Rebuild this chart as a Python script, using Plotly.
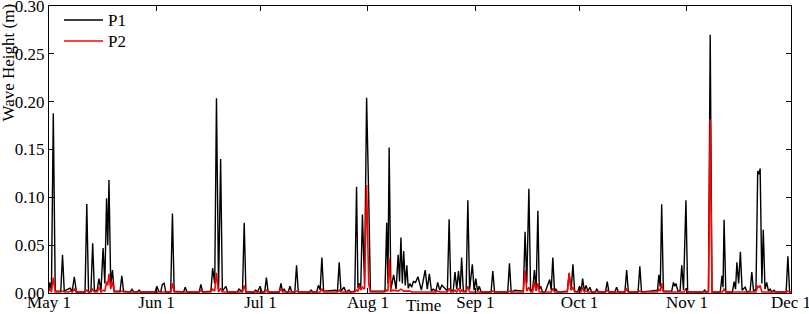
import pandas as pd
import plotly.graph_objects as go

# ---- data (day offsets from May 1, wave height in m) ----
p1_day = [0.0, 0.2, 0.7, 1.24, 1.8, 3.4, 3.9, 4.4, 5.5, 6.1,
          6.7, 7.3, 7.9, 10.4, 10.9, 11.4, 12.1, 12.6, 13.1, 13.9,
          14.4, 15.0, 15.6, 16.1, 16.6, 16.95, 17.3, 17.8, 18.3, 18.8,
          20.5, 21.0, 21.5, 23.4, 23.9, 24.5, 25.5, 26.0, 26.5, 30.6,
          31.1, 31.6, 32.2, 32.7, 33.2, 33.7, 35.1, 35.6, 36.1, 38.8,
          39.3, 39.8, 43.3, 43.8, 44.3, 46.7, 47.2, 47.8, 48.3, 48.9,
          49.5, 50.0, 51.0, 51.5, 54.3, 54.8, 55.8, 56.3, 56.8, 59.1,
          59.6, 60.1, 60.9, 61.4, 62.2, 62.7, 63.2, 66.4, 66.9, 67.3,
          67.8, 68.3, 69.0, 69.5, 70.0, 70.9, 71.4, 71.9, 75.1, 75.6,
          76.1, 77.2, 77.7, 78.2, 78.7, 79.2, 82.7, 83.2, 83.7, 84.2,
          85.1, 85.6, 86.5, 87.0, 88.2, 88.7, 89.1, 89.5, 89.9, 90.4,
          91.0, 91.6, 92.2, 92.7, 96.9, 97.4, 97.75, 98.1, 98.6, 99.4,
          100.1, 100.7, 101.1, 101.5, 101.9, 102.3, 102.75, 103.2, 103.6, 104.1,
          104.6, 105.1, 105.7, 106.4, 107.4, 108.5, 109.1, 109.7, 110.3, 110.8,
          111.6, 112.1, 112.7, 113.3, 114.9, 115.4, 115.9, 116.6, 117.1, 117.6,
          118.1, 118.6, 119.0, 119.5, 120.3, 120.8, 121.3, 122.1, 122.6, 123.1,
          123.6, 124.1, 124.6, 127.5, 128.0, 128.5, 132.3, 132.8, 133.3, 134.4,
          136.8, 137.3, 137.8, 138.4, 138.9, 139.5, 140.0, 140.5, 141.0, 141.4,
          141.8, 142.3, 143.1, 143.6, 144.4, 144.85, 145.3, 145.8, 146.2, 146.7,
          149.5, 150.0, 150.6, 151.1, 151.6, 152.5, 153.0, 153.45, 153.9, 154.4,
          154.9, 155.4, 156.0, 156.5, 157.5, 158.0, 158.5, 160.5, 161.0, 161.5,
          163.2, 163.7, 164.2, 166.1, 166.6, 167.1, 169.9, 170.4, 170.9, 173.3,
          175.5, 175.9, 176.3, 176.7, 177.2, 179.6, 180.1, 180.45, 180.8, 181.4,
          182.0, 182.5, 183.0, 183.7, 184.2, 188.6, 189.1, 189.6, 190.2, 190.7,
          191.2, 193.6, 194.1, 194.4, 194.7, 195.2, 197.1, 197.6, 198.0, 198.4,
          198.9, 199.4, 199.9, 200.8, 201.3, 202.2, 202.7, 203.2, 203.9, 204.4,
          204.7, 205.1, 205.6, 206.0, 206.5, 207.0, 207.5, 208.0, 208.5, 209.1,
          209.6, 212.6, 213.1, 213.6, 214.0]
p1_val = [0.004, 0.011, 0.003, 0.188, 0.002, 0.002, 0.040, 0.002, 0.004, 0.005,
          0.002, 0.017, 0.001, 0.001, 0.093, 0.001, 0.002, 0.052, 0.002, 0.003,
          0.015, 0.003, 0.047, 0.010, 0.099, 0.050, 0.118, 0.008, 0.024, 0.002,
          0.002, 0.018, 0.002, 0.001, 0.004, 0.001, 0.001, 0.003, 0.001, 0.001,
          0.007, 0.002, 0.001, 0.009, 0.010, 0.001, 0.001, 0.083, 0.002, 0.001,
          0.006, 0.001, 0.001, 0.009, 0.001, 0.002, 0.026, 0.010, 0.2035, 0.004,
          0.140, 0.002, 0.007, 0.001, 0.001, 0.004, 0.001, 0.0735, 0.001, 0.001,
          0.003, 0.001, 0.007, 0.001, 0.001, 0.016, 0.001, 0.001, 0.010, 0.002,
          0.004, 0.001, 0.001, 0.007, 0.001, 0.001, 0.029, 0.001, 0.001, 0.003,
          0.001, 0.001, 0.008, 0.003, 0.037, 0.002, 0.003, 0.002, 0.032, 0.002,
          0.006, 0.001, 0.003, 0.001, 0.002, 0.111, 0.005, 0.010, 0.004, 0.082,
          0.010, 0.204, 0.102, 0.002, 0.002, 0.0735, 0.010, 0.152, 0.004, 0.019,
          0.004, 0.040, 0.012, 0.058, 0.010, 0.044, 0.008, 0.029, 0.005, 0.010,
          0.006, 0.012, 0.011, 0.017, 0.003, 0.024, 0.004, 0.020, 0.002, 0.004,
          0.002, 0.011, 0.003, 0.008, 0.002, 0.077, 0.002, 0.003, 0.022, 0.004,
          0.023, 0.004, 0.037, 0.002, 0.002, 0.097, 0.004, 0.030, 0.003, 0.015,
          0.002, 0.007, 0.001, 0.001, 0.023, 0.001, 0.001, 0.031, 0.001, 0.003,
          0.002, 0.064, 0.010, 0.109, 0.002, 0.004, 0.024, 0.003, 0.086, 0.004,
          0.007, 0.001, 0.001, 0.007, 0.014, 0.003, 0.037, 0.002, 0.004, 0.001,
          0.002, 0.020, 0.003, 0.030, 0.002, 0.001, 0.007, 0.002, 0.015, 0.002,
          0.008, 0.002, 0.006, 0.001, 0.001, 0.004, 0.001, 0.001, 0.012, 0.001,
          0.001, 0.006, 0.001, 0.001, 0.024, 0.001, 0.001, 0.028, 0.001, 0.002,
          0.003, 0.019, 0.006, 0.0927, 0.002, 0.002, 0.011, 0.007, 0.010, 0.002,
          0.002, 0.029, 0.003, 0.097, 0.001, 0.001, 0.003, 0.001, 0.002, 0.270,
          0.001, 0.001, 0.018, 0.006, 0.0765, 0.001, 0.001, 0.012, 0.004, 0.032,
          0.010, 0.043, 0.003, 0.006, 0.001, 0.002, 0.022, 0.002, 0.004, 0.1275,
          0.124, 0.130, 0.010, 0.066, 0.004, 0.011, 0.002, 0.004, 0.001, 0.003,
          0.001, 0.001, 0.0385, 0.001, 0.001]

p2_day = [0.0, 0.3, 0.7, 1.24, 1.8, 3.4, 3.9, 4.4, 5.6, 6.1,
          6.7, 7.3, 7.9, 10.4, 10.9, 11.4, 12.1, 12.6, 13.1, 13.9,
          14.4, 15.0, 15.6, 16.1, 16.6, 16.95, 17.3, 17.8, 18.3, 18.8,
          20.5, 21.0, 21.5, 35.1, 35.6, 36.1, 43.3, 43.8, 44.3, 46.7,
          47.2, 47.8, 48.3, 48.9, 49.5, 50.0, 55.8, 56.3, 56.8, 62.2,
          62.7, 63.2, 66.4, 66.9, 67.4, 70.9, 71.4, 71.9, 78.2, 78.7,
          79.2, 83.2, 83.7, 84.2, 88.2, 88.7, 89.1, 89.5, 89.9, 90.4,
          91.0, 91.6, 92.2, 92.7, 96.9, 97.4, 97.75, 98.1, 98.6, 99.4,
          100.7, 101.5, 102.3, 104.1, 104.6, 111.6, 112.1, 112.7, 114.9, 115.4,
          115.9, 116.6, 117.1, 117.6, 118.1, 118.6, 119.0, 119.5, 120.3, 120.8,
          121.3, 127.5, 128.0, 128.5, 132.3, 132.8, 133.3, 136.8, 137.3, 137.8,
          138.4, 138.9, 139.5, 140.0, 140.5, 141.0, 141.4, 144.85, 145.3, 145.8,
          149.5, 150.0, 150.6, 151.1, 151.6, 153.4, 153.9, 154.4, 154.9, 155.4,
          160.5, 161.0, 161.5, 166.1, 166.6, 167.1, 169.9, 170.4, 170.9, 175.5,
          175.9, 176.3, 176.7, 177.2, 183.2, 183.7, 184.2, 190.2, 190.7, 191.2,
          194.2, 194.7, 195.2, 203.9, 204.4, 204.75, 205.1, 205.6, 212.6, 213.1,
          213.6, 214.0]
p2_val = [0.002, 0.004, 0.001, 0.016, 0.001, 0.001, 0.002, 0.001, 0.001, 0.002,
          0.001, 0.004, 0.001, 0.001, 0.003, 0.001, 0.001, 0.004, 0.001, 0.001,
          0.006, 0.001, 0.003, 0.002, 0.012, 0.008, 0.020, 0.004, 0.012, 0.001,
          0.001, 0.002, 0.001, 0.001, 0.010, 0.001, 0.001, 0.003, 0.001, 0.001,
          0.004, 0.002, 0.021, 0.001, 0.005, 0.001, 0.001, 0.008, 0.001, 0.001,
          0.003, 0.001, 0.001, 0.005, 0.001, 0.001, 0.002, 0.001, 0.001, 0.004,
          0.001, 0.001, 0.003, 0.001, 0.001, 0.003, 0.002, 0.008, 0.003, 0.006,
          0.004, 0.113, 0.010, 0.001, 0.001, 0.003, 0.002, 0.036, 0.002, 0.003,
          0.002, 0.004, 0.002, 0.002, 0.001, 0.001, 0.002, 0.001, 0.001, 0.005,
          0.001, 0.001, 0.003, 0.001, 0.005, 0.001, 0.003, 0.001, 0.001, 0.007,
          0.001, 0.001, 0.002, 0.001, 0.001, 0.002, 0.001, 0.001, 0.024, 0.002,
          0.006, 0.001, 0.001, 0.012, 0.002, 0.010, 0.001, 0.001, 0.005, 0.001,
          0.001, 0.021, 0.003, 0.006, 0.001, 0.001, 0.006, 0.001, 0.002, 0.001,
          0.001, 0.003, 0.001, 0.001, 0.004, 0.001, 0.001, 0.002, 0.001, 0.001,
          0.004, 0.002, 0.010, 0.001, 0.001, 0.005, 0.001, 0.001, 0.1815, 0.001,
          0.001, 0.004, 0.001, 0.001, 0.007, 0.006, 0.008, 0.001, 0.001, 0.002,
          0.001, 0.001]

series_names = ["P1", "P2"]
series_colors = ["black", "#ff0000"]
start_date = "2019-05-01"
tick_dates = ["2019-05-01", "2019-06-01", "2019-07-01", "2019-08-01",
              "2019-09-01", "2019-10-01", "2019-11-01", "2019-12-01"]
tick_text = ["May 1", "Jun 1", "Jul 1", "Aug 1", "Sep 1", "Oct 1", "Nov 1", "Dec 1"]
y_ticks = [0.0, 0.05, 0.10, 0.15, 0.20, 0.25, 0.30]

assert len(p1_day) == len(p1_val) and len(p2_day) == len(p2_val)

base = pd.Timestamp(start_date)
x1 = base + pd.to_timedelta(p1_day, unit="D")
x2 = base + pd.to_timedelta(p2_day, unit="D")

FONT = "Liberation Serif, Times New Roman, serif"
PW, PH = 742, 287  # plot area size in px (for paper-coordinate decorations)

fig = go.Figure()
fig.add_trace(go.Scatter(x=x1, y=p1_val, mode="lines", name=series_names[0],
                         line=dict(color=series_colors[0], width=1.4)))
fig.add_trace(go.Scatter(x=x2, y=p2_val, mode="lines", name=series_names[1],
                         line=dict(color=series_colors[1], width=1.6)))

axis_common = dict(showline=True, linecolor="black", linewidth=1.2, mirror="ticks",
                   ticks="inside", ticklen=5, tickcolor="black", showgrid=False,
                   zeroline=False, ticklabeloverflow="allow", automargin=False,
                   tickfont=dict(family=FONT, size=17, color="black"))

fig.update_xaxes(type="date", range=[tick_dates[0], tick_dates[-1]],
                 tickvals=tick_dates, ticktext=tick_text, ticklabelstandoff=-7,
                 **axis_common)
fig.update_yaxes(range=[0, 0.30], tickvals=y_ticks,
                 ticktext=[f"{v:.2f}" for v in y_ticks], **axis_common)

# legend drawn as a key box in the upper-left corner (sample line + label)
legend_shapes = []
legend_annots = []
for i, (nm, col) in enumerate(zip(series_names, series_colors)):
    yy = 1 - (14 + 21 * i) / PH
    legend_shapes.append(dict(type="line", xref="paper", yref="paper",
                              x0=15 / PW, x1=54 / PW, y0=yy, y1=yy,
                              line=dict(color=col, width=1.6)))
    legend_annots.append(dict(text=nm, xref="paper", yref="paper", x=57 / PW, y=yy,
                              xanchor="left", yanchor="middle", showarrow=False,
                              font=dict(family=FONT, size=17, color="black")))

fig.update_layout(
    width=809, height=314,
    margin=dict(l=49, r=18, t=6, b=21),
    paper_bgcolor="white", plot_bgcolor="white",
    font=dict(family=FONT, size=17, color="black"),
    showlegend=False,
    shapes=legend_shapes,
    annotations=legend_annots + [
        dict(text="Wave Height (m)", textangle=-90, xref="paper", yref="paper",
             x=-53 / PW, y=1 - 57 / PH, xanchor="left", yanchor="middle",
             showarrow=False, font=dict(family=FONT, size=17)),
        dict(text="Time", xref="paper", yref="paper", x=(423 - 49) / PW,
             y=-24 / PH, xanchor="center", yanchor="bottom",
             showarrow=False, font=dict(family=FONT, size=17)),
    ],
)

fig.write_html("out.html", config={"displayModeBar": False},
               post_script="document.body.style.margin='0px';document.body.style.overflow='hidden';")
